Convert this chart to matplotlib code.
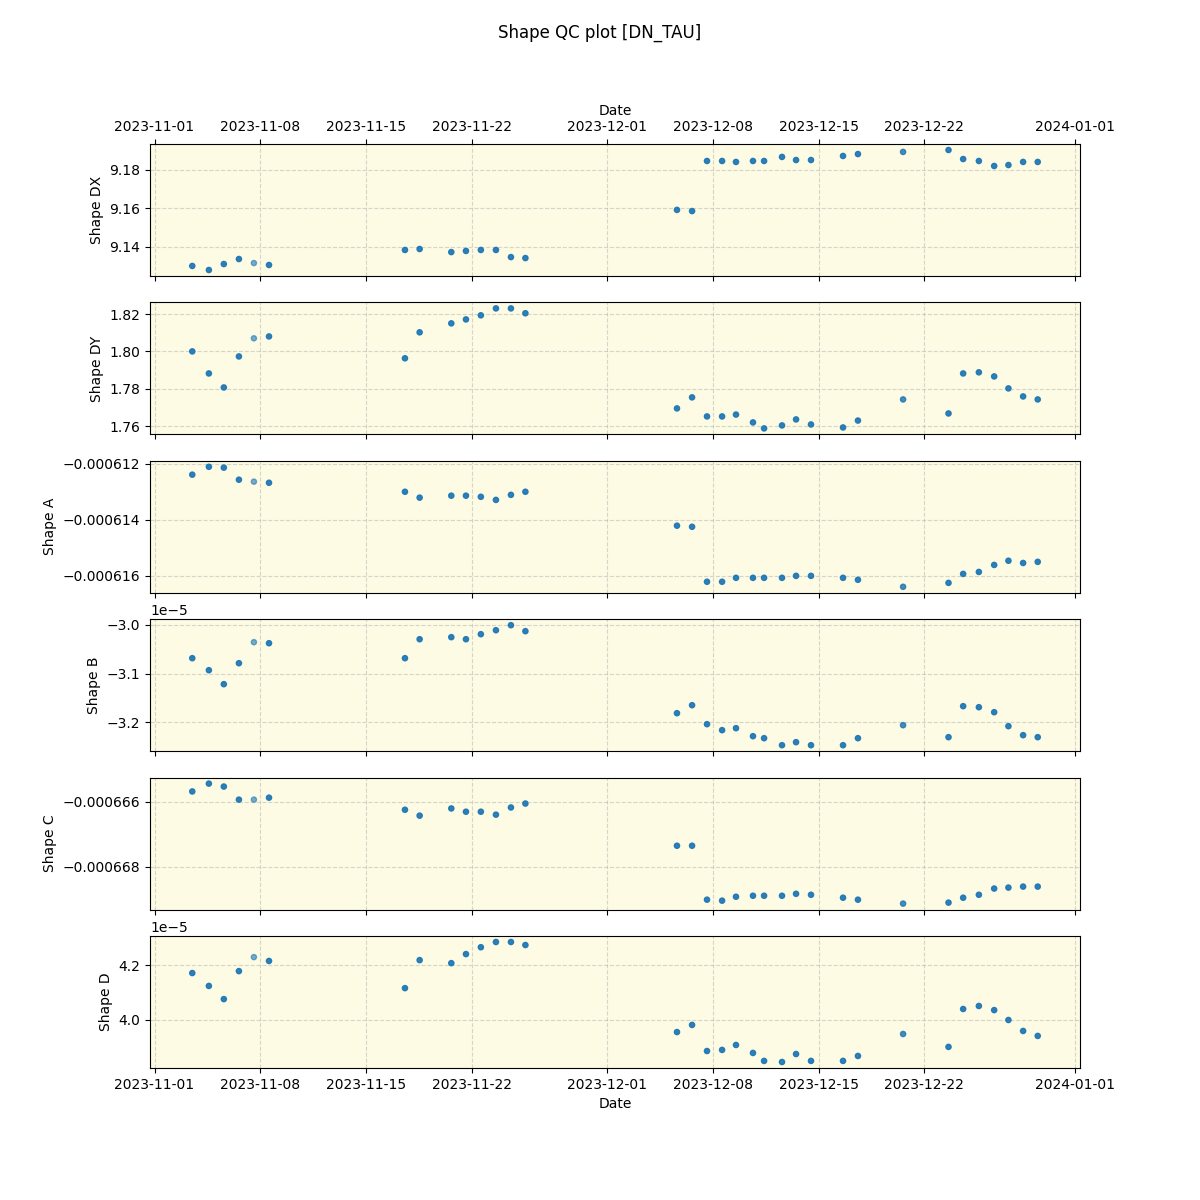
import numpy as np
import pandas as pd
import matplotlib
matplotlib.use("Agg")
import matplotlib.pyplot as plt

# observation times (UTC)
dates = pd.to_datetime([
    "2023-11-03 12:00", "2023-11-04 14:24", "2023-11-05 14:10", "2023-11-06 14:10",
    "2023-11-07 14:00", "2023-11-08 14:00",
    "2023-11-17 14:10", "2023-11-18 13:30", "2023-11-20 15:50", "2023-11-21 15:10",
    "2023-11-22 14:50", "2023-11-23 14:50", "2023-11-24 14:40", "2023-11-25 13:40",
    "2023-12-05 14:40", "2023-12-06 14:40", "2023-12-07 14:24", "2023-12-08 14:24",
    "2023-12-09 12:30", "2023-12-10 15:30", "2023-12-11 09:10", "2023-12-12 13:40",
    "2023-12-13 12:00", "2023-12-14 11:45", "2023-12-16 14:40", "2023-12-17 14:24",
    "2023-12-20 14:10", "2023-12-23 14:24", "2023-12-24 13:40", "2023-12-25 14:40",
    "2023-12-26 15:00", "2023-12-27 13:40", "2023-12-28 13:00", "2023-12-29 12:15",
])

# number of overlapping frames per night (darker dots = more overlap)
n_obs = [3, 3, 3, 3, 1, 3,
         3, 3, 3, 3, 3, 3, 3, 3,
         3, 3, 3, 3, 3, 3, 3, 3, 3, 3, 3, 3, 2, 3, 3, 3, 3, 3, 3, 3]

shape_dx = [9.1300, 9.1279, 9.1310, 9.1336, 9.1315, 9.1305,
            9.1383, 9.1388, 9.1372, 9.1378, 9.1383, 9.1383, 9.1346, 9.1341,
            9.1591, 9.1585, 9.1845, 9.1845, 9.1840, 9.1845, 9.1845, 9.1866,
            9.1850, 9.1850, 9.1871, 9.1881, 9.1892, 9.1902, 9.1855, 9.1845,
            9.1819, 9.1824, 9.1840, 9.1840]

shape_dy = [1.8000, 1.7882, 1.7807, 1.7973, 1.8070, 1.8080,
            1.7963, 1.8102, 1.8150, 1.8171, 1.8193, 1.8230, 1.8230, 1.8204,
            1.7695, 1.7754, 1.7652, 1.7652, 1.7662, 1.7620, 1.7588, 1.7604,
            1.7636, 1.7609, 1.7593, 1.7630, 1.7743, 1.7668, 1.7882, 1.7888,
            1.7866, 1.7802, 1.7759, 1.7743]

shape_a = [-0.00061239, -0.00061211, -0.00061214, -0.00061257, -0.00061264, -0.00061268,
           -0.00061300, -0.00061321, -0.00061314, -0.00061314, -0.00061318, -0.00061329,
           -0.00061311, -0.00061300,
           -0.00061421, -0.00061425, -0.00061621, -0.00061621, -0.00061607, -0.00061607,
           -0.00061607, -0.00061607, -0.00061600, -0.00061600, -0.00061607, -0.00061614,
           -0.00061639, -0.00061625, -0.00061593, -0.00061586, -0.00061561, -0.00061546,
           -0.00061554, -0.00061550]

shape_b = np.array([-3.0685, -3.0932, -3.1219, -3.0788, -3.0356, -3.0377,
                    -3.0685, -3.0295, -3.0253, -3.0295, -3.0192, -3.0110, -3.0007, -3.0130,
                    -3.1815, -3.1651, -3.2041, -3.2164, -3.2123, -3.2288, -3.2329, -3.2473,
                    -3.2411, -3.2473, -3.2473, -3.2329, -3.2062, -3.2308, -3.1671, -3.1692,
                    -3.1795, -3.2082, -3.2267, -3.2308]) * 1e-5

shape_c = [-0.00066569, -0.00066545, -0.00066554, -0.00066594, -0.00066594, -0.00066588,
           -0.00066625, -0.00066643, -0.00066621, -0.00066631, -0.00066631, -0.00066640,
           -0.00066618, -0.00066606,
           -0.00066735, -0.00066735, -0.00066900, -0.00066903, -0.00066891, -0.00066888,
           -0.00066888, -0.00066888, -0.00066882, -0.00066885, -0.00066894, -0.00066900,
           -0.00066912, -0.00066909, -0.00066894, -0.00066885, -0.00066866, -0.00066863,
           -0.00066860, -0.00066860]

shape_d = np.array([4.171, 4.124, 4.076, 4.178, 4.229, 4.215,
                    4.116, 4.218, 4.207, 4.240, 4.265, 4.284, 4.284, 4.273,
                    3.956, 3.982, 3.887, 3.891, 3.909, 3.880, 3.851, 3.847,
                    3.876, 3.851, 3.851, 3.869, 3.949, 3.902, 4.040, 4.051,
                    4.036, 4.000, 3.960, 3.942]) * 1e-5

panels = [("Shape DX", shape_dx), ("Shape DY", shape_dy), ("Shape A", shape_a),
          ("Shape B", shape_b), ("Shape C", shape_c), ("Shape D", shape_d)]

base_alpha = 0.6
alphas = [1 - (1 - base_alpha) ** n for n in n_obs]

fig, axes = plt.subplots(6, 1, sharex=True, figsize=(12, 12))
fig.suptitle("Shape QC plot [DN_TAU]")

for ax, (label, values) in zip(axes, panels):
    ax.set_facecolor("#fdfbe3")
    ax.scatter(dates, values, s=14, color="#1f77b4", alpha=alphas, zorder=3)
    ax.set_ylabel(label)
    ax.grid(True, linestyle="--", color="#b0b0b0", alpha=0.5)

axes[0].tick_params(axis="x", top=True, labeltop=True)
axes[0].xaxis.set_label_position("top")
axes[0].set_xlabel("Date")
axes[-1].set_xlabel("Date")

plt.savefig("out.png", dpi=100)
